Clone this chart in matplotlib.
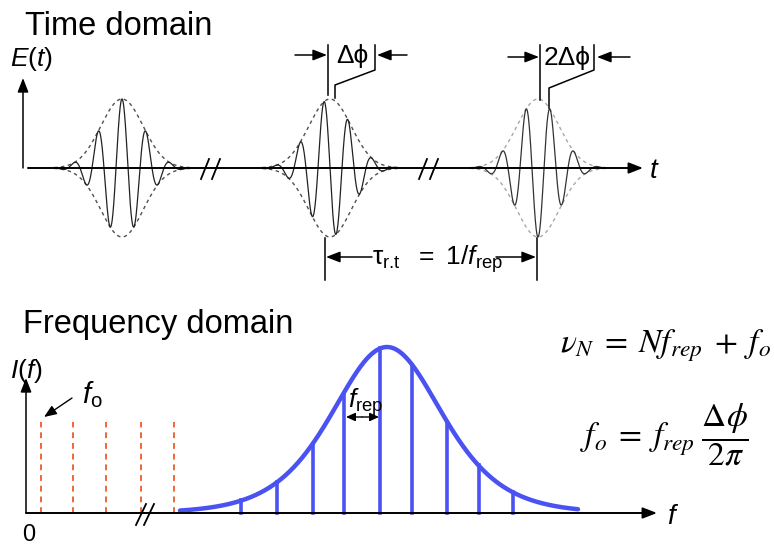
import numpy as np
import matplotlib.pyplot as plt

plt.rcParams['font.family'] = ['Liberation Sans', 'DejaVu Sans']
plt.rcParams['mathtext.fontset'] = 'custom'
plt.rcParams['mathtext.rm'] = 'Liberation Sans'
plt.rcParams['mathtext.it'] = 'Liberation Sans:italic'
plt.rcParams['mathtext.bf'] = 'Liberation Sans:bold'

# ---------------- time domain (sketch in pixel units) ----------------
t_axis_y = 168
t_axis_x = [28, 643]
pulse_centers = [122, 330, 538]
pulse_phases = [0.0, 0.5 * np.pi, 1.0 * np.pi]      # 0, dphi, 2*dphi
pulse_env_colors = ['#505050', '#505050', '#a8a8a8']
pulse_wave_colors = ['#222222', '#222222', '#333333']
pulse_amp = 69
pulse_width = 30
carrier_period = 24
pulse_half_span = 68
t_breaks = [(201, 212), (419, 430)]

# brackets for the phase slip (vertical marker paths)
dphi_paths = [
    ([328, 328], [45, 95]),
    ([375, 375, 335, 335], [45, 70, 85, 98]),
    ([540, 540], [45, 100]),
    ([594, 594, 549, 549], [45, 70, 88, 108]),
]
tau_lines_x = [325, 537]

# ---------------- frequency domain ----------------
f_axis_y = 513
f_axis_x = [26, 657]
offset_lines_x = [41, 73, 106, 141, 174]
offset_line_top = 422
comb_x = [241, 277, 313, 344, 380, 412, 447, 479, 513]
comb_height = [13, 31, 69, 119, 165, 148, 91, 48, 21]
env_center = 387
env_width = 74
env_peak = 166
env_span = (180, 578)
f_break = 136

RED = '#f0663a'
BLUE = '#4a52f2'

fig = plt.figure(figsize=(7.74, 5.46), dpi=100)
ax = fig.add_axes([0, 0, 1, 1])
ax.set_xlim(0, 774)
ax.set_ylim(546, 0)
ax.axis('off')


def arrow(x0, y0, x1, y1, hl=0.85, hw=0.33, lw=1.1, style='-|>'):
    ax.annotate('', xy=(x1, y1), xytext=(x0, y0),
                arrowprops=dict(arrowstyle=f'{style},head_length={hl},head_width={hw}',
                                color='black', lw=lw, shrinkA=0, shrinkB=0,
                                mutation_scale=10))


# ----- time domain -----
ax.text(25, 35, 'Time domain', fontsize=23.5, ha='left', va='baseline')
ax.text(10, 59, r'$E(t)$', fontsize=19, ha='left', va='center')
arrow(23, t_axis_y, 23, 78)
arrow(t_axis_x[0], t_axis_y, t_axis_x[1], t_axis_y, lw=1.4)
ax.text(649, 171, r'$t$', fontsize=20, ha='left', va='center')

for xc, ph, ec, wc in zip(pulse_centers, pulse_phases, pulse_env_colors, pulse_wave_colors):
    x = np.linspace(xc - pulse_half_span, xc + pulse_half_span, 800)
    env = pulse_amp * np.exp(-((x - xc) / pulse_width) ** 2)
    wave = env * np.cos(2 * np.pi * (x - xc) / carrier_period + ph)
    ax.plot(x, t_axis_y - env, color=ec, lw=1.0, ls=(0, (2.5, 2.5)))
    ax.plot(x, t_axis_y + env, color=ec, lw=1.0, ls=(0, (2.5, 2.5)))
    ax.plot(x, t_axis_y - wave, color=wc, lw=0.9)

for b in t_breaks:
    for xb in b:
        ax.plot([xb, xb + 8], [t_axis_y + 11, t_axis_y - 9], color='black', lw=1.3)

for px, py in dphi_paths:
    ax.plot(px, py, color='black', lw=1.1)
arrow(295, 55, 327, 55)
arrow(407, 55, 377, 55)
ax.text(352, 56, 'Δϕ', fontsize=19, ha='center', va='center',
        family=['Liberation Sans', 'DejaVu Sans'])
arrow(508, 57, 539, 57)
arrow(630, 57, 597, 57)
ax.text(567, 58, '2Δϕ', fontsize=19, ha='center', va='center',
        family=['Liberation Sans', 'DejaVu Sans'])

for xl in tau_lines_x:
    ax.plot([xl, xl], [238, 280], color='black', lw=1.1)
arrow(372, 257, tau_lines_x[0] + 1, 257)
arrow(496, 257, tau_lines_x[1] - 1, 257)
ax.text(372, 265, r'$\mathrm{τ}_{\text{r.t}}\ \ =\ 1/f_{\mathrm{rep}}$',
        fontsize=19, ha='left', va='baseline')

# ----- frequency domain -----
ax.text(23, 333, 'Frequency domain', fontsize=23.5, ha='left', va='baseline')
ax.text(10, 371, r'$I(f)$', fontsize=19, ha='left', va='center')
arrow(f_axis_x[0], f_axis_y, f_axis_x[0], 378)
arrow(f_axis_x[0], f_axis_y, f_axis_x[1], f_axis_y, lw=1.4)
ax.text(667, 517, r'$f$', fontsize=20, ha='left', va='center')
ax.text(29, 535, '0', fontsize=17, ha='center', va='center')

for xo in offset_lines_x:
    ax.plot([xo, xo], [f_axis_y, offset_line_top], color=RED, lw=1.4, ls=(0, (3, 2.5)))
arrow(72, 398, 44, 417, hl=0.75, hw=0.3, lw=1.0)
ax.text(82, 395, r'$f_{\mathrm{o}}$', fontsize=21, ha='left', va='center')

for xb in (f_break, f_break + 8):
    ax.plot([xb, xb + 10], [f_axis_y + 12, f_axis_y - 9], color='black', lw=1.3)

xe = np.linspace(env_span[0], env_span[1], 600)
ye = env_peak / np.cosh((xe - env_center) / env_width) ** 2
ax.plot(xe, f_axis_y - ye, color=BLUE, lw=3.2, solid_capstyle='round')
for xc, hc in zip(comb_x, comb_height):
    ax.plot([xc, xc], [f_axis_y, f_axis_y - hc], color=BLUE, lw=2.6)

ax.text(348, 408, r'$f_{\mathrm{rep}}$', fontsize=19, ha='left', va='baseline')
arrow(362, 417, 346, 417, hl=0.55, hw=0.25, lw=1.0)
arrow(362, 417, 379, 417, hl=0.55, hw=0.25, lw=1.0)

ax.text(560, 352, r'$\nu_N \;=\; Nf_{rep} \;+\; f_o$', fontsize=24, ha='left',
        va='baseline', math_fontfamily='stix')
ax.text(580, 435, r'$f_o \;=\; f_{rep}\;\dfrac{\Delta\phi}{2\pi}$', fontsize=24,
        ha='left', va='center', math_fontfamily='stix')

fig.savefig('out.png', dpi=100)
